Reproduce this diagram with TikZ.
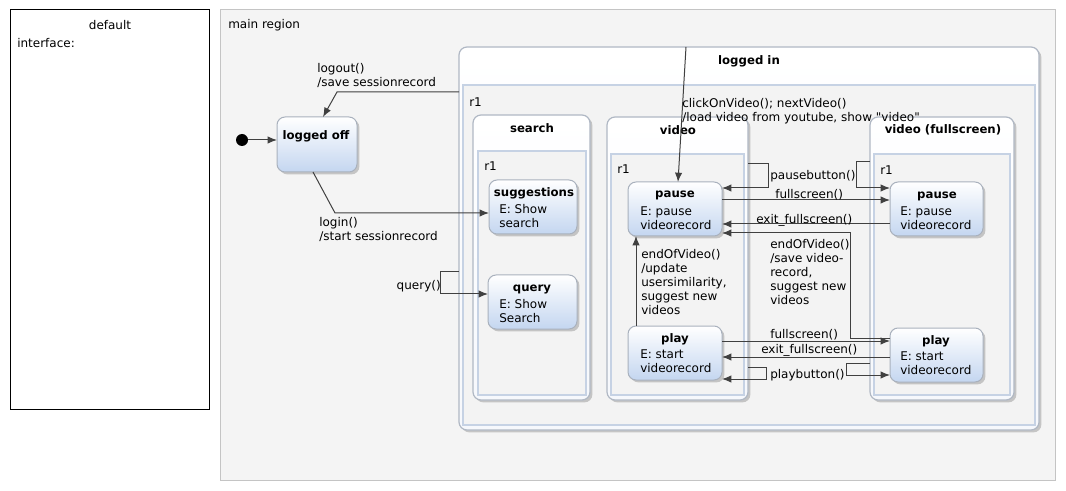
\documentclass[tikz,border=0pt]{standalone}
\usepackage{fontspec}
\setmainfont{DejaVu Sans}[Ligatures=TeXOff]
\usetikzlibrary{arrows.meta,fit,shadows}
\definecolor{linec}{HTML}{404040}
\definecolor{stateborder}{HTML}{A9B1BD}
\definecolor{statebot}{HTML}{C4D6F0}
\definecolor{compborder}{HTML}{B0B8C4}
\definecolor{compfill}{HTML}{F6F8FC}
\definecolor{regborder}{HTML}{C6D2E4}
\definecolor{regfill}{HTML}{F3F3F3}
\definecolor{mainfill}{HTML}{F4F4F4}
\definecolor{mainborder}{HTML}{C4C4C4}
\begin{document}
\begin{tikzpicture}[x=0.75pt,y=-0.75pt,
  box/.style={inner sep=0pt,outer sep=0pt},
  shad/.style={drop shadow={shadow xshift=1.8pt,shadow yshift=-1.8pt,fill=black!45,opacity=0.45}},
  stateb/.style={box,draw=stateborder,line width=0.75pt,rounded corners=6pt,top color=white,bottom color=statebot,shad},
  comp/.style={box,draw=compborder,line width=0.9pt,rounded corners=6pt,top color=white,bottom color=compfill,shad},
  regionb/.style={box,draw=regborder,line width=1.3pt,fill=regfill},
  ttl/.style={inner sep=0pt,font=\bfseries\fontsize{8.8}{10.5}\selectfont},
  txt/.style={inner sep=0pt,align=left,font=\fontsize{9}{10.5}\selectfont},
  tr/.style={draw=linec,line width=0.75pt,-{Latex[length=7pt,width=5.5pt]}},
  ln/.style={draw=linec,line width=0.75pt}]
\useasboundingbox[fill=white] (0,0) rectangle (1066,491);

% default box
\node[box,draw=black,line width=0.75pt,fit={(10,10) (209,409)}] (default) {};
\node[txt] (defaultT) at (110,25) {default};
\node[txt,anchor=west] (iface) at (17,43) {interface:};

% main region
\node[box,draw=mainborder,line width=0.75pt,fill=mainfill,fit={(220,10) (1055,480)}] (main) {};
\node[txt,anchor=west] (mainT) at (228,25) {main region};

% logged in
\node[comp,fit={(459,47) (1039,430)}] (loggedin) {};
\node[ttl] (loggedinT) at (749,61) {logged in};
\node[regionb,fit={(463,85) (1035,425)}] (regLI) {};
\node[txt,anchor=west] (regLIT) at (469,102) {r1};

% search
\node[comp,fit={(473,115) (590,400)}] (search) {};
\node[ttl] (searchT) at (532,128) {search};
\node[regionb,fit={(478,151) (586,395)}] (regS) {};
\node[txt,anchor=west] (regST) at (484,166) {r1};

% video
\node[comp,fit={(607,117) (748,400)}] (video) {};
\node[ttl] (videoT) at (678,130) {video};
\node[regionb,fit={(611,154) (744,395)}] (regV) {};
\node[txt,anchor=west] (regVT) at (617,169) {r1};

% video fullscreen
\node[comp,fit={(870,117) (1014,400)}] (vfs) {};
\node[ttl] (vfsT) at (943,130) {video (fullscreen)};
\node[regionb,fit={(874,154) (1010,395)}] (regF) {};
\node[txt,anchor=west] (regFT) at (880,170) {r1};

% initial + logged off
\node[circle,fill=black,inner sep=0pt,minimum size=9pt] (init) at (242,140) {};
\node[stateb,fit={(277,117) (357,172)}] (loggedoff) {};
\node[ttl] (loggedoffT) at (316,136) {logged off};

% simple states
\node[stateb,fit={(489,180) (577,234)}] (sugg) {};
\node[ttl] (suggT) at (534,193) {suggestions};
\node[txt,anchor=north west] (suggB) at (499,204) {E: Show\\search};

\node[stateb,fit={(488,275) (577,329)}] (query) {};
\node[ttl] (queryT) at (532,289) {query};
\node[txt,anchor=north west] (queryB) at (499,299) {E: Show\\Search};

\node[stateb,fit={(628,182) (722,236)}] (pauseV) {};
\node[ttl] (pauseVT) at (675,195) {pause};
\node[txt,anchor=north west] (pauseVB) at (640,206) {E: pause\\videorecord};

\node[stateb,fit={(628,326) (722,380)}] (playV) {};
\node[ttl] (playVT) at (675,339) {play};
\node[txt,anchor=north west] (playVB) at (640,349) {E: start\\videorecord};

\node[stateb,fit={(890,182) (983,236)}] (pauseF) {};
\node[ttl] (pauseFT) at (937,196) {pause};
\node[txt,anchor=north west] (pauseFB) at (900,206) {E: pause\\videorecord};

\node[stateb,fit={(890,328) (983,382)}] (playF) {};
\node[ttl] (playFT) at (936,341) {play};
\node[txt,anchor=north west] (playFB) at (900,351) {E: start\\videorecord};

% transitions
\draw[tr] (init.east) -- (loggedoff.west |- init.east);
\draw[tr] (loggedin.west |- 0,92) -- (337,92) -- (loggedoff.north -| 323,0);
\node[txt,anchor=north west] (logoutL) at (317,63) {logout()\\/save sessionrecord};
\draw[tr] (loggedoff.south -| 313,0) -- (335,213) -- (sugg.west |- 0,213);
\node[txt,anchor=north west] (loginL) at (319,217) {login()\\/start sessionrecord};
\draw[tr] (loggedin.west |- 0,272) -- (440,272) -- (440,294) -- (query.west |- 0,294);
\node[txt,anchor=east] (queryL) at (441,286) {query()};

\draw[tr] (loggedin.north -| 686,0) -- (pauseV.north -| 678,0);
\node[txt,anchor=north west] (clickL) at (682,98) {clickOnVideo(); nextVideo()\\/load video from youtube, show "video"};

\draw[tr] (video.east |- 0,164) -- (768,164) -- (768,188) -- (pauseV.east |- 0,188);
\node[txt,anchor=west] (pbL) at (770,176) {pausebutton()};
\draw[tr] (vfs.west |- 0,162) -- (856,162) -- (856,188) -- (pauseF.west |- 0,188);
\draw[tr] (pauseV.east |- 0,200) -- (pauseF.west |- 0,200);
\node[txt,anchor=west] (fsL1) at (775,195) {fullscreen()};
\draw[tr] (pauseF.west |- 0,224) -- (pauseV.east |- 0,224);
\node[txt,anchor=west] (exL1) at (756,220) {exit\_fullscreen()};
\draw[tr] (playF.west |- 0,338) -- (850,338) -- (850,233) -- (pauseV.east |- 0,233);
\node[txt,anchor=north west] (eovL2) at (770,239) {endOfVideo()\\/save video-\\record,\\suggest new\\videos};
\draw[tr] (playV.east |- 0,341) -- (playF.west |- 0,341);
\node[txt,anchor=west] (fsL2) at (770,335) {fullscreen()};
\draw[tr] (playF.west |- 0,357) -- (playV.east |- 0,357);
\node[txt,anchor=west] (exL2) at (761,350) {exit\_fullscreen()};
\draw[tr] (video.east |- 0,367) -- (766,367) -- (766,379) -- (playV.east |- 0,379);
\node[txt,anchor=west] (plbL) at (770,375) {playbutton()};
\draw[tr] (vfs.west |- 0,363) -- (846,363) -- (846,375) -- (playF.west |- 0,375);
\draw[tr] (playV.north -| 636,0) -- (pauseV.south -| 636,0);
\node[txt,anchor=north west] (eovL1) at (641,249) {endOfVideo()\\/update\\usersimilarity,\\suggest new\\videos};
\end{tikzpicture}
\end{document}
